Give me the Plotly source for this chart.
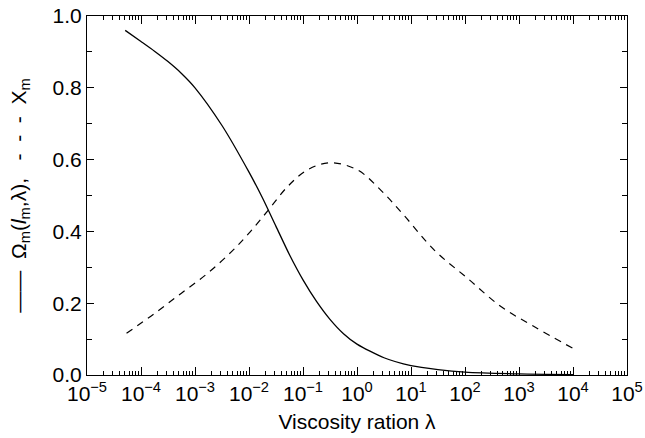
import plotly.graph_objects as go

# Solid curve: Omega_m(l_m, lambda)
omega_lam = [5.1e-5, 1e-4, 1.78e-4, 3.16e-4, 5.62e-4, 1e-3, 3.16e-3, 1e-2, 1.78e-2, 3.16e-2, 5.62e-2, 0.1, 0.178, 0.316, 0.562, 1.0, 3.16, 10, 31.6, 100, 1000, 1e4]
omega_val = [0.960, 0.929, 0.902, 0.873, 0.840, 0.800, 0.695, 0.565, 0.493, 0.414, 0.335, 0.265, 0.205, 0.155, 0.115, 0.086, 0.048, 0.026, 0.015, 0.008, 0.003, 0.001]

# Dashed curve: X_m
xm_lam = [5.4e-5, 1.8e-4, 5.6e-4, 1.7e-3, 4.7e-3, 1e-2, 2.3e-2, 5.2e-2, 0.12, 0.31, 1.0, 2.75, 7.1, 27, 112, 470, 1900, 1e4]
xm_val = [0.116, 0.172, 0.228, 0.283, 0.343, 0.395, 0.460, 0.525, 0.571, 0.591, 0.572, 0.515, 0.448, 0.348, 0.269, 0.190, 0.135, 0.074]

x_tickvals = [10.0 ** k for k in range(-5, 6)]
x_ticktext = ["10<sup>−%d</sup>" % (-k) if k < 0 else "10<sup>%d</sup>" % k for k in range(-5, 6)]
y_tickvals = [0.0, 0.2, 0.4, 0.6, 0.8, 1.0]

fig = go.Figure()
fig.add_trace(go.Scatter(x=omega_lam, y=omega_val, mode="lines", line=dict(color="black", width=1.3, shape="spline", smoothing=0.7), showlegend=False))
fig.add_trace(go.Scatter(x=xm_lam, y=xm_val, mode="lines", line=dict(color="black", width=1.2, dash="7px,6px", shape="spline", smoothing=1.0), showlegend=False))

font = dict(family="Liberation Sans, Arial, sans-serif", size=21, color="black")
tfont = dict(family="Liberation Sans, Arial, sans-serif", size=21, color="black")

fig.update_layout(
    width=645, height=438,
    margin=dict(l=87, r=18, t=16, b=63),
    paper_bgcolor="white", plot_bgcolor="white",
    font=font,
    xaxis=dict(
        type="log", range=[-5, 5], automargin=False,
        tickvals=x_tickvals, ticktext=x_ticktext,
        ticks="inside", ticklen=8, tickwidth=1, tickcolor="black",
        showline=True, linecolor="black", linewidth=1.2, mirror="allticks",
        showgrid=False, zeroline=False,
        minor=dict(ticks="inside", ticklen=4, tickwidth=1, tickcolor="black", dtick="D1", showgrid=False),
        title=dict(text="Viscosity ration λ", standoff=10, font=tfont),
        tickfont=font,
    ),
    yaxis=dict(
        range=[0, 1.0], automargin=False,
        tickvals=y_tickvals, tickformat=".1f",
        ticks="inside", ticklen=7, tickwidth=1, tickcolor="black",
        showline=True, linecolor="black", linewidth=1.2, mirror="allticks",
        showgrid=False, zeroline=False,
        minor=dict(ticks="inside", ticklen=5, tickwidth=1, tickcolor="black", dtick=0.1, showgrid=False),
        title=dict(text="——  Ω<sub>m</sub>(<i>l</i><sub>m</sub>,λ),   -  -  -  X<sub>m</sub>", standoff=20, font=tfont),
        tickfont=font,
    ),
)

fig.write_html("out.html")
